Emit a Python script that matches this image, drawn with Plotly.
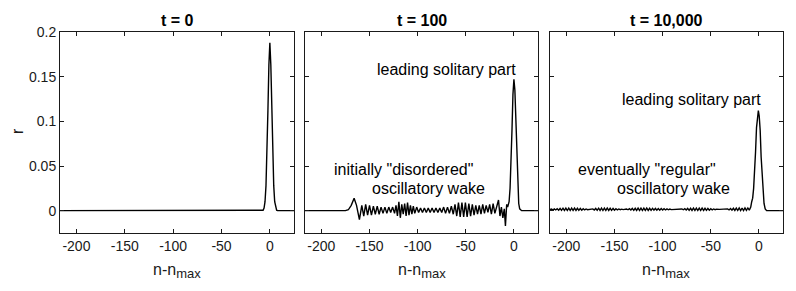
import plotly.graph_objects as go

# ---------------- data ----------------
n_t0 = [-217, -8, -7, -6, -5, -4, -3, -2, -1, 0, 1, 2, 3, 4, 5, 6, 7, 8, 25]
r_t0 = [0, 0, 0.0005, 0.003, 0.010, 0.028, 0.062, 0.112, 0.163, 0.188,
        0.163, 0.112, 0.062, 0.028, 0.010, 0.003, 0.0005, 0, 0]

n_t100 = [-217, -175, -172, -169, -166, -163.5, -160.5, -158, -156, -154, -152, -150,
          -148, -146, -144, -142, -140, -138, -136, -134, -132, -130, -128, -126,
          -124, -122.5, -121, -119.5, -118, -116.5, -115, -113.5, -112, -110.5,
          -109, -107.5, -106, -104.5, -103, -101, -99, -97, -95, -93, -91, -89,
          -87, -85, -83, -81, -79, -77, -75, -73, -71, -69, -67, -65, -63,
          -61.2, -59.4, -57.6, -55.8, -54, -52.2, -50.4, -48.6, -46.8, -45,
          -43.2, -41.4, -39.6, -37.8, -36, -34.2, -32.4, -30.6, -28.8, -27,
          -25.2, -23.4, -21.6, -19.8, -18, -16, -14.5, -13, -11.5, -10, -8.8,
          -7.5, -6.5, -5, -4, -3, -2, -1, 0, 1, 2, 3, 4, 5, 6, 8, 25]
r_t100 = [0, 0, 0.001, 0.006, 0.014, 0.006, -0.010, 0.006, -0.006, 0.007, -0.005, 0.006,
          -0.005, 0.005, -0.004, 0.005, -0.004, 0.004, -0.003, 0.004, -0.003, 0.004, -0.002, 0.004,
          -0.003, 0.006, -0.006, 0.010, -0.008, 0.007, -0.004, 0.008, -0.006, 0.009,
          -0.005, 0.006, -0.004, 0.005, -0.003, 0.004, -0.002, 0.003, -0.002, 0.003, -0.002, 0.003,
          -0.002, 0.003, -0.002, 0.003, -0.002, 0.003, -0.002, 0.004, -0.003, 0.004, -0.003, 0.005, -0.004,
          0.007, -0.006, 0.009, -0.007, 0.009, -0.007, 0.009, -0.007, 0.008, -0.006,
          0.007, -0.005, 0.006, -0.004, 0.006, -0.004, 0.007, -0.003, 0.006, -0.002,
          0.007, -0.004, 0.008, -0.003, 0.006, 0.012, -0.006, 0.004, -0.008, 0.002, -0.017,
          0.007, 0.004, 0.010, 0.025, 0.052, 0.090, 0.130, 0.147, 0.135, 0.100, 0.058, 0.025, 0.008, 0.002, 0, 0]

n_t10000 = [-217, -215.5, -214, -212.5, -211, -209.5, -208,
            -206.5, -205, -203.5, -202, -200.5, -199, -197.5, -196, -194.5, -193,
            -191.5, -190, -188.5, -187, -185.5, -184, -182.5, -181, -179.5, -178,
            -176, -174,
            -172.5, -171, -169.5, -168, -166.5, -165, -163.5, -162, -160.5, -159,
            -157.5, -156, -154.5, -153, -151.5, -150, -148.5, -147, -145.5, -144,
            -142.5, -141,
            -139,
            -137.5, -136, -134.5, -133, -131.5, -130, -128.5, -127, -125.5, -124,
            -122.5, -121, -119.5, -118, -116.5, -115, -113.5, -112, -110.5, -109,
            -107.5, -106, -104.5, -103, -101.5, -100, -98.5, -97, -95.5, -94, -92.5, -91,
            -88, -84, -81.5,
            -80, -78.5, -77, -75.5, -74, -72.5, -71, -69.5, -68, -66.5, -65, -63.5,
            -62, -60.5, -59, -57.5, -56, -54.5, -53, -51.5, -50, -48.5, -47, -45.5, -44,
            -41, -37, -34,
            -32.5, -31, -29.5, -28, -26.5, -25, -23.5, -22, -20.5, -19, -17.5, -16,
            -14.5, -13, -11.5, -10,
            -8.5, -7.5, -6.5, -5.5, -4.5, -3.5, -2.5, -1.5, -0.6, 0.3, 1.3, 2.3,
            3.3, 4.3, 5.3, 6.5, 8, 25]
r_t10000 = [0.0012, 0.0018, 0.0008, 0.0020, 0.0008, 0.0022, 0.0006,
            0.0025, 0.0004, 0.0028, 0.0002, 0.0029, 0.0002, 0.0029, 0.0002, 0.0029, 0.0002,
            0.0028, 0.0003, 0.0027, 0.0004, 0.0025, 0.0006, 0.0022, 0.0008, 0.0019, 0.0011,
            0.0014, 0.0015,
            0.0020, 0.0008, 0.0025, 0.0004, 0.0028, 0.0002, 0.0029, 0.0002, 0.0029, 0.0002,
            0.0028, 0.0003, 0.0027, 0.0004, 0.0025, 0.0006, 0.0022, 0.0008, 0.0019, 0.0011,
            0.0017, 0.0012,
            0.0015,
            0.0019, 0.0010, 0.0022, 0.0007, 0.0025, 0.0004, 0.0027, 0.0003, 0.0028, 0.0002,
            0.0029, 0.0002, 0.0029, 0.0002, 0.0028, 0.0003, 0.0027, 0.0004, 0.0026, 0.0005,
            0.0025, 0.0006, 0.0024, 0.0006, 0.0023, 0.0007, 0.0022, 0.0008, 0.0020, 0.0010, 0.0018, 0.0012,
            0.0015, 0.0014, 0.0015,
            0.0019, 0.0010, 0.0022, 0.0007, 0.0025, 0.0004, 0.0027, 0.0003, 0.0028, 0.0002, 0.0029, 0.0002,
            0.0029, 0.0002, 0.0028, 0.0003, 0.0027, 0.0004, 0.0025, 0.0006, 0.0022, 0.0008, 0.0019, 0.0011, 0.0017,
            0.0015, 0.0014, 0.0015,
            0.0020, 0.0008, 0.0024, 0.0005, 0.0027, 0.0003, 0.0029, 0.0002, 0.0030, 0.0002, 0.0030, 0.0002,
            0.0030, 0.0003, 0.0030, 0.0005,
            0.004, 0.010, 0.014, 0.025, 0.040, 0.066, 0.093, 0.108, 0.112, 0.106, 0.090, 0.060,
            0.038, 0.019, 0.008, 0.002, 0, 0]

panel_titles = ["t = 0", "t = 100", "t = 10,000"]
x_ticks = [-200, -150, -100, -50, 0]
x_ticktext = ["-200", "-150", "-100", "-50", "0"]
y_ticks = [0, 0.05, 0.1, 0.15, 0.2]
y_ticktext = ["0", "0.05", "0.1", "0.15", "0.2"]
x_range = [-217, 25]
y_range = [-0.025, 0.2]

# ---------------- figure ----------------
FONT = "Liberation Sans, Arial, Helvetica, sans-serif"
INK = "#1a1a1a"
domains = [[0.0, 0.3237], [0.3389, 0.6611], [0.6777, 1.0]]
series = [(n_t0, r_t0), (n_t100, r_t100), (n_t10000, r_t10000)]

fig = go.Figure()
for i, (xs, ys) in enumerate(series):
    sfx = "" if i == 0 else str(i + 1)
    fig.add_trace(go.Scatter(x=xs, y=ys, mode="lines",
                             line=dict(color="black", width=1.4),
                             xaxis="x" + sfx, yaxis="y" + sfx,
                             showlegend=False, hoverinfo="skip"))
    xa = dict(domain=domains[i], range=x_range, tickvals=x_ticks, ticktext=x_ticktext,
              ticks="inside", ticklen=4, tickcolor=INK,
              showline=True, linecolor=INK, linewidth=1, mirror="ticks",
              showgrid=False, zeroline=False, automargin=False,
              tickfont=dict(family=FONT, size=14, color=INK),
              anchor="y" + sfx)
    ya = dict(range=y_range, tickvals=y_ticks, ticktext=y_ticktext,
              ticks="inside", ticklen=4, tickcolor=INK,
              showline=True, linecolor=INK, linewidth=1, mirror="ticks",
              showgrid=False, zeroline=False, showticklabels=(i == 0),
              automargin=False,
              tickfont=dict(family=FONT, size=14, color=INK),
              anchor="x" + sfx)
    fig.update_layout(**{"xaxis" + sfx: xa, "yaxis" + sfx: ya})
    cx = (domains[i][0] + domains[i][1]) / 2
    # panel title
    fig.add_annotation(text="<b>" + panel_titles[i] + "</b>", xref="paper", yref="paper",
                       x=cx, y=1.055, xanchor="center", yanchor="middle", showarrow=False,
                       font=dict(family=FONT, size=16, color="black"))
    # x-axis label
    fig.add_annotation(text="n-n<sub><span style='font-size:13px'>max</span></sub>",
                       xref="paper", yref="paper", x=cx, y=-0.19,
                       xanchor="center", yanchor="middle", showarrow=False,
                       font=dict(family=FONT, size=16, color=INK))

# y label
fig.add_annotation(text="r", xref="paper", yref="paper", x=-0.0595, y=0.507,
                   textangle=-90, showarrow=False, xanchor="center", yanchor="middle",
                   font=dict(family=FONT, size=16, color=INK))

ann_font = dict(family=FONT, size=16, color="black")
labels = [
    ("x2", "y2", -70.5, 0.158, "leading solitary part"),
    ("x2", "y2", -114.6, 0.0466, "initially \"disordered\""),
    ("x2", "y2", -88.9, 0.0243, "oscillatory wake"),
    ("x3", "y3", -70.1, 0.125, "leading solitary part"),
    ("x3", "y3", -115.8, 0.0466, "eventually \"regular\""),
    ("x3", "y3", -88.4, 0.0243, "oscillatory wake"),
]
for xr, yr, x, y, t in labels:
    fig.add_annotation(text=t, xref=xr, yref=yr, x=x, y=y, showarrow=False,
                       xanchor="center", yanchor="middle", font=ann_font)

# the page adds an 8px body margin, so the margins are offset to compensate
fig.update_layout(width=796, height=291,
                  margin=dict(l=52, r=21, t=24, b=66, pad=0),
                  plot_bgcolor="white", paper_bgcolor="white")

fig.write_html("out.html")
